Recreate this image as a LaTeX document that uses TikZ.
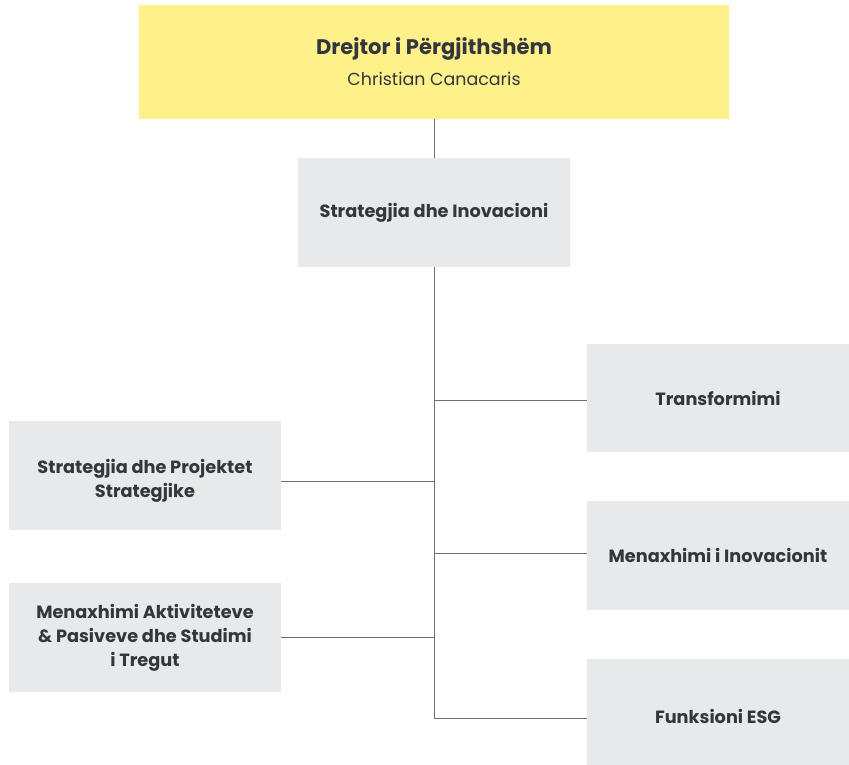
\documentclass[tikz,border=0pt]{standalone}
\usepackage{fontspec}
\setmainfont{Poppins}
\definecolor{ceoyellow}{HTML}{FFF18A}
\definecolor{unitgray}{HTML}{E8E9EB}
\definecolor{inktext}{HTML}{33363D}
\definecolor{linkgray}{HTML}{707070}
\tikzset{
  unitbox/.style={fill=unitgray, text=inktext, align=center, inner sep=0pt,
    font=\bfseries\fontsize{12.6}{17}\selectfont},
  link/.style={draw=linkgray, line width=0.7pt}
}
\begin{document}
\begin{tikzpicture}[x=0.025cm, y=-0.025cm]
		
		\useasboundingbox (0,0) rectangle (849,764);
		\clip (0,0) rectangle (849,764);
		
		% Boxes
		\node[unitbox, fill=ceoyellow, minimum width=14.725cm, minimum height=2.825cm] (ceo) at (434,62)
		  {{\fontsize{15}{18}\selectfont Drejtor i Përgjithshëm}\\[5pt]
		   {\mdseries\fontsize{12.4}{16}\selectfont Christian Canacaris}};
		\node[unitbox, minimum width=6.775cm, minimum height=2.725cm] (strat) at (434,212.5) {Strategjia dhe Inovacioni};
		
		\node[unitbox, minimum width=6.55cm, minimum height=2.7cm] (transf) at (718,398) {Transformimi};
		\node[unitbox, minimum width=6.55cm, minimum height=2.725cm] (inov) at (718,555.5) {Menaxhimi i Inovacionit};
		\node[unitbox, minimum width=6.55cm, minimum height=2.85cm] (esg) at (718,716) {Funksioni ESG};
		
		\node[unitbox, minimum width=6.8cm, minimum height=2.725cm, text depth=0pt] (proj) at (145,475.5) {\raisebox{-4pt}{\shortstack{Strategjia dhe Projektet\\Strategjike}}};
		\node[unitbox, minimum width=6.8cm, minimum height=2.725cm] (aktiv) at (145,637.5) {Menaxhimi Aktiviteteve\\\& Pasiveve dhe Studimi\\i Tregut};
		
		% Main lines
		\coordinate (spine) at ([yshift=-0.05cm]esg.west -| strat.south);
		\draw[link] (ceo.south) -- (strat.north);
		\draw[link] (strat.south) -- (spine);
		\draw[link] ([yshift=-0.05cm]transf.west) -- ([yshift=-0.05cm]transf.west -| strat.south);
		\draw[link] ([yshift=0.06cm]inov.west) -- ([yshift=0.06cm]inov.west -| strat.south);
		\draw[link] ([yshift=-0.05cm]esg.west) -- (spine);
		\draw[link] ([yshift=-0.14cm]proj.east) -- ([yshift=-0.14cm]proj.east -| strat.south);
		\draw[link] (aktiv.east) -- (aktiv.east -| strat.south);
		
	\end{tikzpicture}
\end{document}
